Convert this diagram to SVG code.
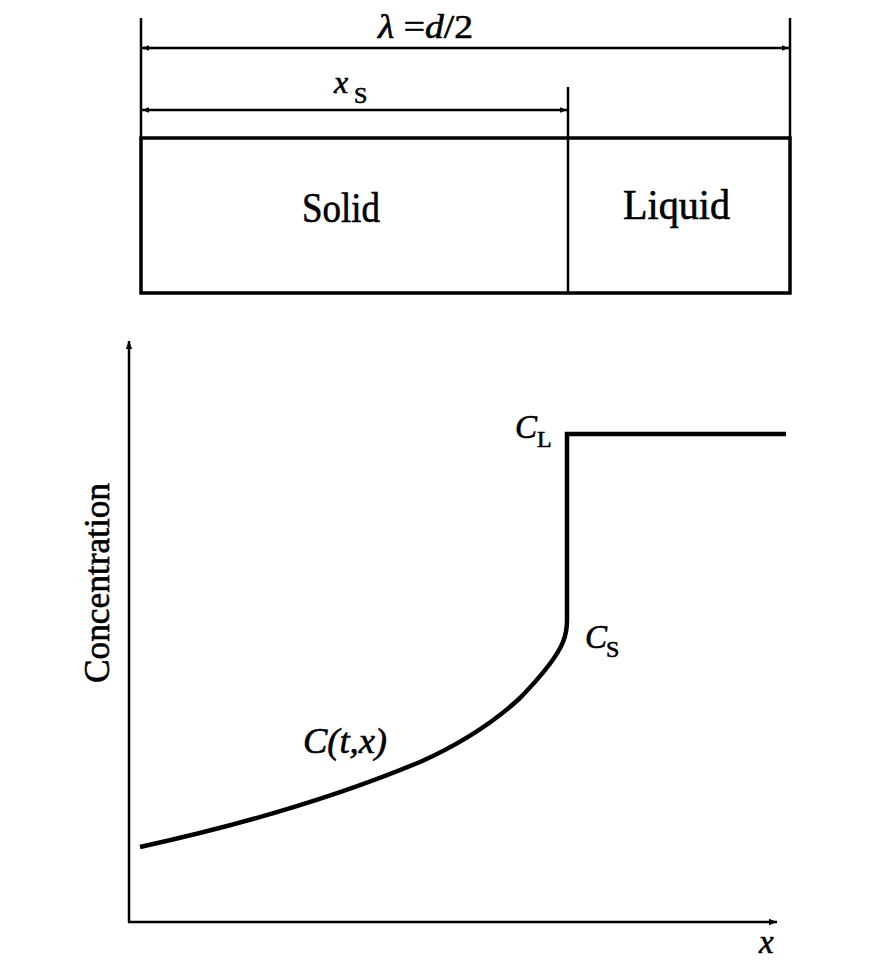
<svg xmlns="http://www.w3.org/2000/svg" width="887" height="963" viewBox="0 0 887 963">
<style>
.t{font-family:'Liberation Serif','Times New Roman','DejaVu Serif',serif;fill:#000;stroke:#000;stroke-width:0.6}
.i{font-style:italic}
.thin{stroke:#000;stroke-width:2.5;fill:none}
.thick{stroke:#000;stroke-width:4.5;fill:none}
</style>
<defs>
<marker id="ah" viewBox="0 0 10 10" refX="10" refY="5" markerWidth="9" markerHeight="7" markerUnits="userSpaceOnUse" orient="auto-start-reverse">
<path d="M0,1 L10,5 L0,9 Z" fill="#000"/>
</marker>
<marker id="ax" viewBox="0 0 10 10" refX="10" refY="5" markerWidth="12" markerHeight="8" markerUnits="userSpaceOnUse" orient="auto">
<path d="M0,1 L10,5 L0,9 Z" fill="#000"/>
</marker>
</defs>
<rect width="887" height="963" fill="#fff"/>
<g id="box">
<line class="thin" x1="141" y1="18" x2="141" y2="140"/>
<line class="thin" x1="790" y1="18" x2="790" y2="140"/>
<line class="thin" x1="568" y1="87" x2="568" y2="293"/>
<rect x="141" y="138" width="649" height="155" class="thick" style="stroke-width:3.5"/>
</g>
<g id="solid"><text class="t" x="302" y="222" font-size="42" textLength="78" lengthAdjust="spacingAndGlyphs">Solid</text></g>
<g id="liquid"><text class="t" x="623" y="219" font-size="42" textLength="107" lengthAdjust="spacingAndGlyphs">Liquid</text></g>
<g id="dimensions">
<line class="thin" x1="142" y1="48" x2="789" y2="48" marker-start="url(#ah)" marker-end="url(#ah)"/>
<line class="thin" x1="142" y1="110" x2="567" y2="110" marker-start="url(#ah)" marker-end="url(#ah)"/>
<text class="t" x="378" y="38" font-size="33" textLength="95" lengthAdjust="spacingAndGlyphs"><tspan class="i">λ</tspan> =<tspan class="i">d</tspan>/2</text>
<text class="t i" x="334" y="93" font-size="32">x</text>
<text class="t" x="354" y="103" font-size="24">S</text>
</g>
<g id="axes">
<line class="thin" x1="129" y1="922" x2="129" y2="341" marker-end="url(#ax)"/>
<line class="thin" x1="128" y1="922" x2="777" y2="922" marker-end="url(#ax)"/>
<text class="t" transform="translate(109,583) rotate(-90)" font-size="36" text-anchor="middle" textLength="200" lengthAdjust="spacingAndGlyphs">Concentration</text>
<text class="t i" x="759" y="953" font-size="33">x</text>
</g>
<g id="curve">
<path class="thick" d="M140,847 Q300,812 420,762 Q480,735 520,698 Q555,662 563,642 Q567,632 567,620 L567,434 L786,434"/>
<text class="t i" x="303" y="753" font-size="35" textLength="84" lengthAdjust="spacingAndGlyphs">C(t,x)</text>
<text class="t i" x="515" y="438" font-size="33">C</text>
<text class="t" x="537" y="447" font-size="24">L</text>
<text class="t i" x="585" y="648" font-size="33">C</text>
<text class="t" x="606" y="657" font-size="24">S</text>
</g>
</svg>
